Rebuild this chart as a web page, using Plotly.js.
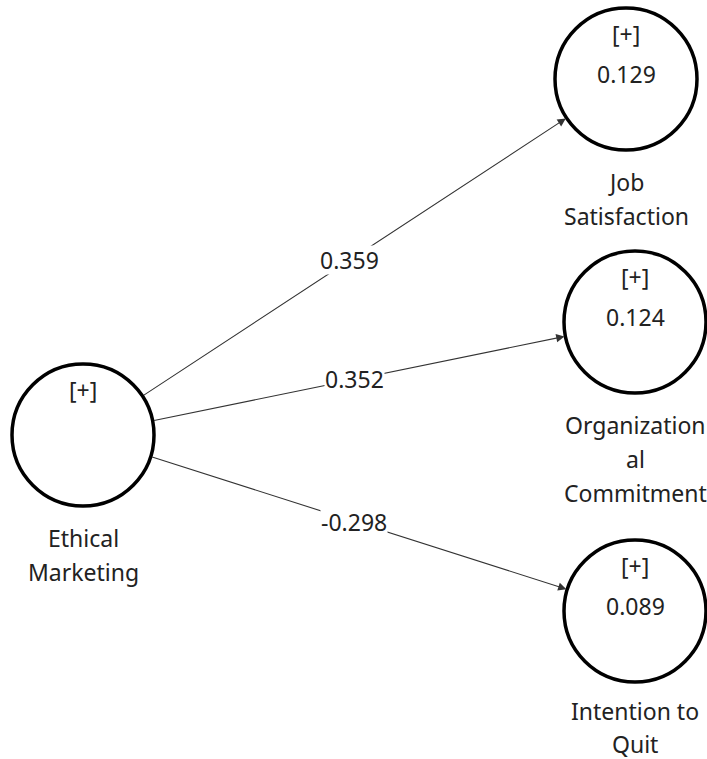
<!DOCTYPE html>
<html>
<head>
<meta charset="utf-8">
<script src="https://cdn.plot.ly/plotly-3.0.1.min.js"></script>
<style>html,body{margin:0;padding:0;background:#fff;}#chart{width:707px;height:759px;}</style>
</head>
<body>
<div id="chart"></div>
<script>
// Constructs (nodes)
var nodeNames = ["Ethical Marketing", "Job Satisfaction", "Organizational Commitment", "Intention to Quit"];
var nodeLabelLines = [["Ethical", "Marketing"], ["Job", "Satisfaction"], ["Organization", "al", "Commitment"], ["Intention to", "Quit"]];
var rSquared = [null, "0.129", "0.124", "0.089"];
// Paths (from -> to) and coefficients
var pathFrom = [0, 0, 0];
var pathTo = [1, 2, 3];
var pathCoef = ["0.359", "0.352", "-0.298"];

// Layout positions (diagram coordinates)
var nodeX = [83, 626, 635, 635];
var nodeY = [435, 79, 322, 611];
var labelShift = [0, 0, 0, -3];
var R = 71;

var font = {family: "Noto Sans, Open Sans, sans-serif", size: 23, color: "#222"};
var shapes = [];
var annotations = [];

// arrows first
for (var i = 0; i < pathFrom.length; i++) {
  var a = pathFrom[i], b = pathTo[i];
  var dx = nodeX[b] - nodeX[a], dy = nodeY[b] - nodeY[a];
  var L = Math.sqrt(dx*dx + dy*dy);
  var ux = dx / L, uy = dy / L;
  var sx = nodeX[a] + ux * R, sy = nodeY[a] + uy * R;
  var ex = nodeX[b] - ux * (R + 1), ey = nodeY[b] - uy * (R + 1);
  annotations.push({
    x: ex, y: ey, ax: sx, ay: sy, xref: "x", yref: "y", axref: "x", ayref: "y",
    showarrow: true, arrowhead: 2, arrowsize: 1.5, arrowwidth: 1.1, arrowcolor: "#333", text: ""
  });
  var t = 0.49;
  annotations.push({
    x: sx + (ex - sx) * t, y: sy + (ey - sy) * t, xref: "x", yref: "y",
    text: pathCoef[i], showarrow: false, font: font, bgcolor: "#fff", borderpad: 0, height: 28
  });
}

for (var n = 0; n < nodeNames.length; n++) {
  shapes.push({
    type: "circle", xref: "x", yref: "y",
    x0: nodeX[n] - R, x1: nodeX[n] + R, y0: nodeY[n] - R, y1: nodeY[n] + R,
    line: {color: "#000", width: 3.5}, fillcolor: "#fff", layer: "above"
  });
  annotations.push({x: nodeX[n], y: nodeY[n] - 45, xref: "x", yref: "y", text: "[+]", showarrow: false, font: font});
  if (rSquared[n] !== null) {
    annotations.push({x: nodeX[n], y: nodeY[n] - 5, xref: "x", yref: "y", text: rSquared[n], showarrow: false, font: font});
  }
  var lines = nodeLabelLines[n];
  for (var k = 0; k < lines.length; k++) {
    annotations.push({x: nodeX[n], y: nodeY[n] + 103 + labelShift[n] + (34 + labelShift[n] / 3) * k, xref: "x", yref: "y", text: lines[k], showarrow: false, font: font});
  }
}

var layout = {
  width: 707, height: 759,
  margin: {l: 0, r: 0, t: 0, b: 0},
  paper_bgcolor: "#fff", plot_bgcolor: "#fff",
  xaxis: {range: [0, 707], visible: false, fixedrange: true},
  yaxis: {range: [759, 0], visible: false, fixedrange: true},
  showlegend: false,
  shapes: shapes,
  annotations: annotations
};

Plotly.newPlot("chart", [{x: [], y: [], type: "scatter", mode: "markers"}], layout, {staticPlot: true, displayModeBar: false});
</script>
</body>
</html>
